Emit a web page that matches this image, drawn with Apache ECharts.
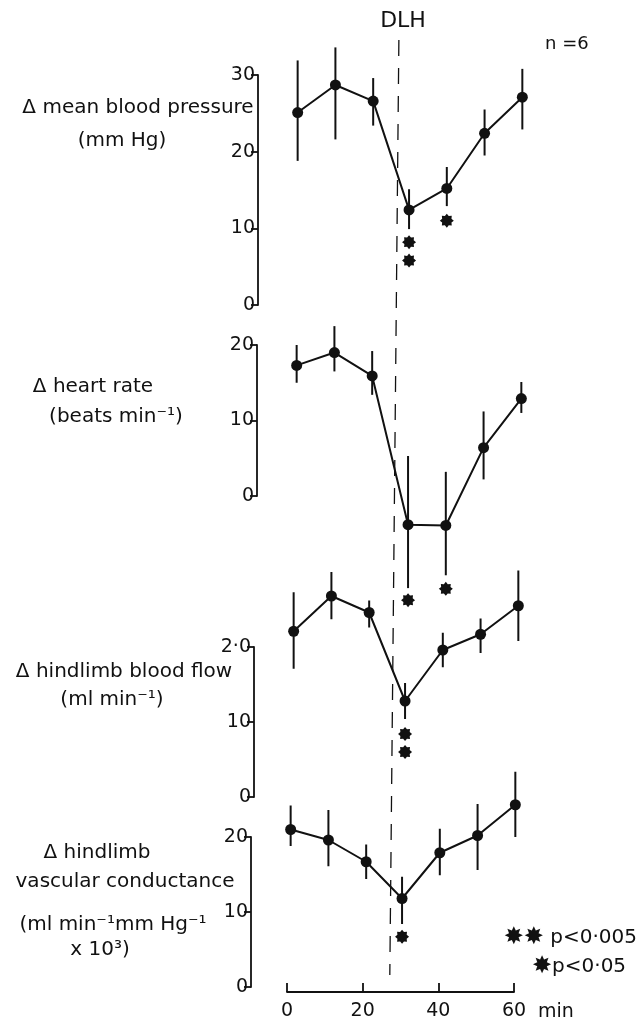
<!DOCTYPE html>
<html>
<head>
<meta charset="utf-8">
<script src="https://cdn.jsdelivr.net/npm/echarts@6/dist/echarts.min.js"></script>
<style>
  html, body { margin: 0; padding: 0; background: #fff; }
  #chart { width: 643px; height: 1026px; }
</style>
</head>
<body>
<div id="chart"></div>
<script>
// sampling times (min)
const times = [1, 11, 21, 30.5, 40.5, 50.5, 60.5];
const xTicks = [0, 20, 40, 60];

// mean blood pressure (mm Hg)
const bpMean = [25.1, 28.7, 26.6, 12.4, 15.2, 22.4, 27.1];
const bpHigh = [31.9, 33.6, 29.6, 15.1, 18.0, 25.5, 30.8];
const bpLow = [18.8, 21.6, 23.4, 9.9, 12.9, 19.5, 22.9];
const bpStars = [[30.5, 8.2], [30.5, 5.8], [40.5, 11.0]];

// heart rate (beats/min)
const hrMean = [17.3, 19.0, 15.9, -3.8, -3.9, 6.4, 12.9];
const hrHigh = [20.0, 22.5, 19.2, 5.3, 3.2, 11.2, 15.1];
const hrLow = [15.0, 16.5, 13.4, -12.2, -10.5, 2.2, 11.0];
const hrStars = [[30.5, -13.8], [40.5, -12.3]];

// hindlimb blood flow
const flowMean = [22.1, 26.8, 24.6, 12.8, 19.6, 21.7, 25.5];
const flowHigh = [27.3, 30.0, 26.2, 15.2, 21.9, 23.8, 30.2];
const flowLow = [17.1, 23.7, 22.6, 10.4, 17.3, 19.2, 20.8];
const flowStars = [[30.5, 8.4], [30.5, 6.0]];

// hindlimb vascular conductance
const condMean = [21.0, 19.6, 16.7, 11.8, 17.9, 20.2, 24.3];
const condHigh = [24.2, 23.6, 19.0, 14.7, 21.1, 24.4, 28.7];
const condLow = [18.8, 16.1, 14.4, 8.4, 14.9, 15.6, 20.0];
const condStars = [[30.5, 6.7]];

// DLH marker (time at top / bottom of the dashed line)
const dlhLine = [[28.6, 1], [26.2, 0]];

const ink = '#111';
const font = 'DejaVu Sans';

// 8 pointed star
let star = 'path://';
for (let k = 0; k < 16; k++) {
  const r = k % 2 ? 0.72 : 1;
  const a = Math.PI * k / 8;
  star += (k ? 'L' : 'M') + (r * Math.sin(a)).toFixed(3) + ' ' + (-r * Math.cos(a)).toFixed(3);
}
star += 'Z';

const panels = [
  { left: 258, top: 75, height: 230, max: 30, mean: bpMean, hi: bpHigh, lo: bpLow, stars: bpStars },
  { left: 257, top: 345, height: 151, max: 20, mean: hrMean, hi: hrHigh, lo: hrLow, stars: hrStars },
  { left: 254, top: 647, height: 150, max: 20, mean: flowMean, hi: flowHigh, lo: flowLow, stars: flowStars, lab20: '2·0' },
  { left: 251, top: 837, height: 150, max: 20, mean: condMean, hi: condHigh, lo: condLow, stars: condStars }
];

const grid = [], xAxis = [], yAxis = [], series = [];

panels.forEach((p, i) => {
  grid.push({ left: p.left, top: p.top, height: p.height, width: 270 });
  xAxis.push({ gridIndex: i, type: 'value', min: -9.5, max: 62, show: false });
  yAxis.push({
    gridIndex: i, type: 'value', min: 0, max: p.max, interval: 10,
    axisLine: { show: true, onZero: false, lineStyle: { color: ink, width: 1.8 } },
    axisTick: { show: true, length: 7, lineStyle: { color: ink, width: 1.8 } },
    splitLine: { show: false },
    axisLabel: {
      color: ink, fontSize: 19, fontFamily: font, margin: 3,
      formatter: v => (v === 20 && p.lab20) ? p.lab20 : String(v)
    }
  });
  series.push({
    type: 'custom', xAxisIndex: i, yAxisIndex: i, clip: false, silent: true, z: 2,
    data: times.map((t, k) => [t, p.lo[k], p.hi[k]]),
    renderItem: (params, api) => {
      const a = api.coord([api.value(0), api.value(1)]);
      const b = api.coord([api.value(0), api.value(2)]);
      return { type: 'line', shape: { x1: a[0], y1: a[1], x2: b[0], y2: b[1] },
        style: { stroke: ink, lineWidth: 2 } };
    }
  });
  series.push({
    type: 'line', xAxisIndex: i, yAxisIndex: i, clip: false, z: 3,
    data: times.map((t, k) => [t, p.mean[k]]),
    symbol: 'circle', symbolSize: 11, showSymbol: true,
    itemStyle: { color: ink },
    lineStyle: { color: ink, width: 2 }
  });
  series.push({
    type: 'scatter', xAxisIndex: i, yAxisIndex: i, clip: false, z: 3,
    data: p.stars, symbol: star, symbolSize: 14,
    itemStyle: { color: ink, opacity: 1 }
  });
});

// time axis
grid.push({ left: 287, top: 900, height: 92, width: 227 });
xAxis.push({
  gridIndex: 4, type: 'value', min: 0, max: 60, interval: 20,
  axisLine: { show: true, onZero: false, lineStyle: { color: ink, width: 1.8 } },
  axisTick: { show: true, inside: true, length: 9, lineStyle: { color: ink, width: 1.8 } },
  splitLine: { show: false },
  axisLabel: { color: ink, fontSize: 19, fontFamily: font, margin: 10,
    formatter: v => xTicks.includes(v) ? String(v) : '' }
});
yAxis.push({ gridIndex: 4, type: 'value', min: 0, max: 1, show: false });

// DLH dashed line
grid.push({ left: 255, top: 40, height: 935, width: 270 });
xAxis.push({ gridIndex: 5, type: 'value', min: -9.5, max: 62, show: false });
yAxis.push({ gridIndex: 5, type: 'value', min: 0, max: 1, show: false });
series.push({
  type: 'line', xAxisIndex: 5, yAxisIndex: 5, data: dlhLine, symbol: 'none', z: 1,
  lineStyle: { color: ink, width: 1.3, type: [16, 12] }
});

const txt = (x, y, text, size, align) => ({
  type: 'text', x, y,
  style: { text, fill: ink, font: (size || 20) + 'px "' + font + '"',
    textAlign: align || 'center', textVerticalAlign: 'middle',
    rich: { s: { fontSize: 24, fontFamily: font, fill: ink } } }
});

const chart = echarts.init(document.getElementById('chart'));
chart.setOption({
  animation: false,
  grid, xAxis, yAxis, series,
  graphic: [
    txt(403, 21, 'DLH', 22),
    txt(545, 44, 'n =6', 18, 'left'),
    txt(138, 108, 'Δ mean blood pressure'),
    txt(122, 141, '(mm Hg)'),
    txt(93, 387, 'Δ heart rate'),
    txt(116, 417, '(beats min⁻¹)'),
    txt(124, 672, 'Δ hindlimb blood flow'),
    txt(112, 700, '(ml min⁻¹)'),
    txt(97, 853, 'Δ hindlimb'),
    txt(125, 882, 'vascular conductance'),
    txt(113, 925, '(ml min⁻¹mm Hg⁻¹'),
    txt(100, 950, 'x 10³)'),
    txt(538, 1012, 'min', 19, 'left'),
    txt(637, 938, '{s|✸✸} p<0·005', 20, 'right'),
    txt(532, 967, '{s|✸}p<0·05', 20, 'left')
  ]
});
</script>
</body>
</html>
